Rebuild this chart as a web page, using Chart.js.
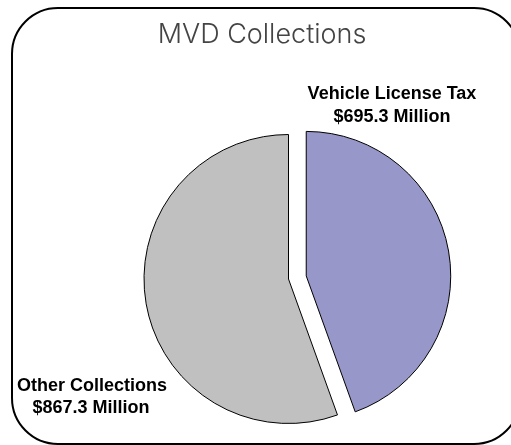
<!DOCTYPE html>
<html>
<head>
<meta charset="utf-8">
<script src="https://cdn.jsdelivr.net/npm/chart.js@4/dist/chart.umd.min.js"></script>
<style>
  html, body { margin: 0; padding: 0; background: #fff; }
  canvas { display: block; }
</style>
</head>
<body>
<canvas id="myChart" width="511" height="445"></canvas>
<script>
var categories = ["Vehicle License Tax", "Other Collections"];
var amounts = [695.3, 867.3];
var amountLabels = ["$695.3 Million", "$867.3 Million"];
var sliceColors = ["#9797c9", "#c0c0c0"];

// pull the first slice out from the centre along its middle angle
var explodePlugin = {
	id: "explode",
	afterDatasetsUpdate: function(chart) {
		var arc = chart.getDatasetMeta(0).data[0];
		var mid = (arc.startAngle + arc.endAngle) / 2;
		arc.x += Math.cos(mid) * 18;
		arc.y += Math.sin(mid) * 18;
	}
};

var framePlugin = {
	id: "frame",
	beforeDraw: function(chart) {
		var ctx = chart.ctx;
		ctx.save();
		ctx.fillStyle = "#fff";
		ctx.fillRect(0, 0, chart.width, chart.height);
		ctx.beginPath();
		ctx.roundRect(12, 8, 508, 436, 46);
		ctx.lineWidth = 2;
		ctx.strokeStyle = "#000";
		ctx.stroke();

		ctx.fillStyle = "#444";
		ctx.font = "300 27px Inter";
		ctx.textAlign = "center";
		ctx.textBaseline = "alphabetic";
		ctx.fillText("MVD Collections", 262, 43);
		ctx.restore();
	},
	afterDraw: function(chart) {
		var ctx = chart.ctx;
		ctx.save();
		ctx.fillStyle = "#000";
		ctx.font = "bold 18px 'Liberation Sans', Arial";
		ctx.textAlign = "center";
		ctx.fillText(categories[0], 392, 99);
		ctx.fillText(amountLabels[0], 392, 122);
		ctx.fillText(categories[1], 92, 391);
		ctx.fillText(amountLabels[1], 91, 413);
		ctx.restore();
	}
};

new Chart("myChart", {
	type: "pie",
	data: {
		labels: categories,
		datasets: [{
			data: amounts,
			backgroundColor: sliceColors,
			borderColor: "#000",
			borderWidth: 1
		}]
	},
	options: {
		responsive: false,
		animation: false,
		layout: {
			padding: { top: 134, bottom: 21, left: 140, right: 74 }
		},
		plugins: {
			legend: { display: false },
			tooltip: { enabled: false },
			title: { display: false }
		}
	},
	plugins: [explodePlugin, framePlugin]
});
</script>
</body>
</html>
